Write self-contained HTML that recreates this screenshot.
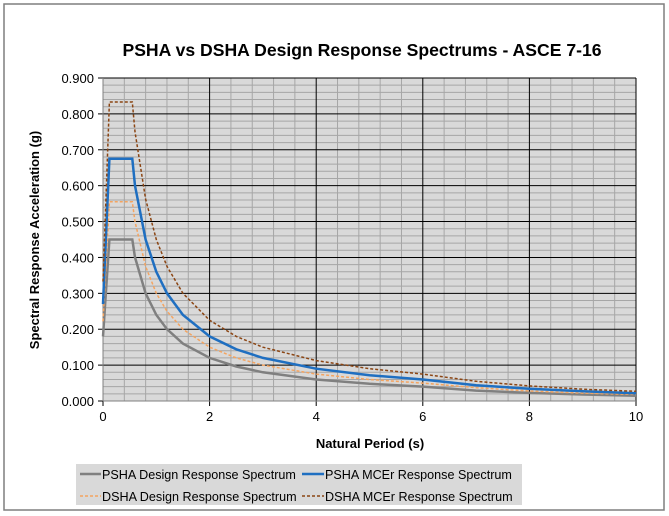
<!DOCTYPE html>
<html><head><meta charset="utf-8"><style>
body{margin:0;background:#fff;font-family:"Liberation Sans",sans-serif;}
svg{display:block}
</style></head><body>
<svg id="chart" width="669" height="516">
<rect x="4" y="4" width="660" height="506" fill="#fff" stroke="#7f7f7f" stroke-width="1.5"/>
<text x="362" y="56" text-anchor="middle" font-size="17.6" font-weight="bold">PSHA vs DSHA Design Response Spectrums - ASCE 7-16</text>
<g id="plot"></g>
<text transform="translate(39,240) rotate(-90)" text-anchor="middle" font-size="13" font-weight="bold">Spectral Response Acceleration (g)</text>
<text x="370" y="448" text-anchor="middle" font-size="13" font-weight="bold">Natural Period (s)</text>
<g>
<rect x="76" y="464" width="446" height="41" fill="#d9d9d9"/>
<g><line x1="80" y1="474" x2="101" y2="474" stroke="#808080" stroke-width="2.5"/><text x="102" y="479" font-size="12.6">PSHA Design Response Spectrum</text></g>
<g><line x1="302" y1="474" x2="324" y2="474" stroke="#1f6fc1" stroke-width="2.5"/><text x="325" y="479" font-size="12.6">PSHA MCEr Response Spectrum</text></g>
<g><line x1="80" y1="496" x2="101" y2="496" stroke="#f4a460" stroke-width="1.5" stroke-dasharray="3,2"/><text x="102" y="501" font-size="12.6">DSHA Design Response Spectrum</text></g>
<g><line x1="302" y1="496" x2="324" y2="496" stroke="#8b4513" stroke-width="1.5" stroke-dasharray="3,2"/><text x="325" y="501" font-size="12.6">DSHA MCEr Response Spectrum</text></g>
</g>
</svg>
<script>
const periods=[0,0.12,0.55,0.6,0.8,1,1.2,1.5,2,2.5,3,4,5,6,7,8,9,10];
const pshaDesign=[0.18,0.45,0.45,0.40,0.30,0.24,0.20,0.16,0.12,0.096,0.08,0.06,0.048,0.04,0.029,0.0225,0.018,0.0144];
const pshaMCEr=[0.27,0.675,0.675,0.60,0.45,0.36,0.30,0.24,0.18,0.144,0.12,0.09,0.072,0.06,0.044,0.034,0.027,0.0216];
const dshaDesign=[0.222,0.555,0.555,0.50,0.375,0.30,0.25,0.20,0.15,0.12,0.10,0.075,0.06,0.05,0.037,0.028,0.022,0.018];
const dshaMCEr=[0.333,0.833,0.833,0.75,0.5625,0.45,0.375,0.30,0.225,0.18,0.15,0.1125,0.09,0.075,0.055,0.042,0.033,0.027];
const xTicks=[0,2,4,6,8,10];
const yTicks=[0,0.1,0.2,0.3,0.4,0.5,0.6,0.7,0.8,0.9];

const X0=103,X1=636,Y0=401,Y1=78;
const xs=v=>X0+(v/10)*(X1-X0);
const ys=v=>Y0-(v/0.9)*(Y0-Y1);
const NS="http://www.w3.org/2000/svg";
const g=document.getElementById('plot');
function mk(t,a){const e=document.createElementNS(NS,t);for(const k in a)e.setAttribute(k,a[k]);g.appendChild(e);return e;}
const bg=mk('rect',{x:X0,y:Y1,width:X1-X0,height:Y0-Y1,fill:'#d9d9d9'});


for(let i=1;i<25;i++){const v=i*0.4;if(Math.abs(v/2-Math.round(v/2))<1e-6)continue;mk('line',{x1:xs(v),x2:xs(v),y1:Y1,y2:Y0,stroke:'#a6a6a6','stroke-width':1});}
for(let i=1;i<45;i++){const v=i*0.02;if(i%5===0)continue;mk('line',{x1:X0,x2:X1,y1:ys(v),y2:ys(v),stroke:'#a6a6a6','stroke-width':1});}
xTicks.forEach(v=>{
 if(v>0){const l=mk('line',{x1:xs(v),x2:xs(v),y1:Y1,y2:Y0,stroke:'#000','stroke-width':1});}
 mk('line',{x1:xs(v),x2:xs(v),y1:Y0,y2:Y0+5,stroke:'#000'});
 const t=mk('text',{x:xs(v),y:Y0+20,'text-anchor':'middle','font-size':13});t.textContent=v;
 
 
});
yTicks.forEach(v=>{
 if(v>0){const l=mk('line',{x1:X0,x2:X1,y1:ys(v),y2:ys(v),stroke:'#000','stroke-width':1});}
 mk('line',{x1:X0-5,x2:X0,y1:ys(v),y2:ys(v),stroke:'#000'});
 const t=mk('text',{x:X0-9,y:ys(v)+5,'text-anchor':'end','font-size':13});t.textContent=v.toFixed(3);
 
 
});
mk('line',{x1:X0,x2:X0,y1:Y1,y2:Y0,stroke:'#808080'});
mk('line',{x1:X0,x2:X1,y1:Y0,y2:Y0,stroke:'#808080'});
function series(vals,color,w,dash,name){
 const d=vals.map((v,i)=>(i?'L':'M')+xs(periods[i]).toFixed(1)+','+ys(v).toFixed(1)).join('');
 const a={d:d,fill:'none',stroke:color,'stroke-width':w};if(dash)a['stroke-dasharray']=dash;
 const p=mk('path',a);
 
 
}
series(pshaDesign,'#808080',2.5,null,'psha-design-line');
series(dshaDesign,'#f4a460',1.5,'3,2','dsha-design-line');
series(pshaMCEr,'#1f6fc1',2.5,null,'psha-mcer-line');
series(dshaMCEr,'#8b4513',1.5,'3,2','dsha-mcer-line');
</script>
</body></html>
